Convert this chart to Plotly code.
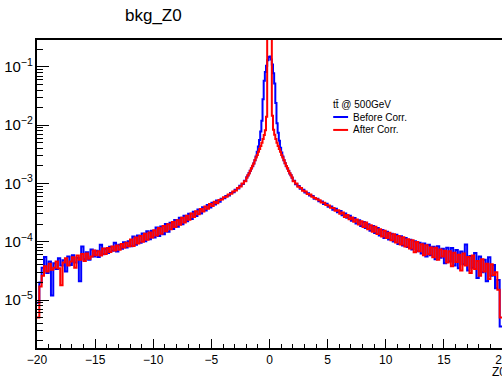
import numpy as np
import plotly.graph_objects as go

# ---------------- data ----------------
# Tails: 0.2-wide bins, values given in units of 1e-5
blue_left_tail_e5 = [0.9, 2.0, 3.6, 5.5, 2.9, 4.6, 1.2, 4.3, 3.4, 5.2,
                     3.9, 4.8, 3.1, 5.6, 4.0, 5.9, 4.4, 5.3, 2.1, 8.3,
                     5.0, 6.6, 4.9, 7.4, 5.6, 7.0, 5.5, 8.9, 6.1, 7.6,
                     6.4, 8.2, 7.0, 9.6, 6.8, 8.9, 7.6, 9.8, 8.0, 10.2,
                     8.4, 12.3, 8.9, 12.8, 9.6, 13.9, 10.2, 15.2, 11.0, 15.4,
                     11.9, 17.6, 12.6, 18.3, 13.5, 20.2, 14.8, 21.2, 16.6, 23.6,
                     18.2, 25.9, 20.0, 28.0, 22.6, 30.2, 24.6, 32.8, 27.6, 35.8,
                     30.6, 39.0, 34.4, 42.8, 38.6, 46.9, 43.5, 51.0, 48.6, 55.0,
                     55.6, 61.2, 62.5, 68.6, 71.0, 78.2, 82.0, 91.5, 98.0, 111.0]
red_left_tail_e5 = [0.5, 1.7, 2.6, 3.8, 3.1, 4.2, 3.3, 3.6, 4.6, 3.5,
                    1.8, 4.4, 5.2, 3.9, 4.6, 5.4, 3.6, 5.8, 4.9, 6.2,
                    4.7, 6.3, 5.1, 5.6, 7.1, 5.9, 6.9, 5.8, 7.7, 6.2,
                    7.8, 6.7, 8.3, 7.1, 8.6, 7.3, 9.2, 8.0, 9.6, 8.4,
                    10.9, 8.5, 11.8, 9.3, 12.6, 10.0, 13.8, 10.8, 14.5, 11.8,
                    15.8, 12.8, 17.2, 13.8, 18.6, 15.1, 19.9, 16.4, 21.8, 17.9,
                    23.5, 19.6, 25.8, 21.4, 28.0, 23.8, 30.6, 26.6, 33.4, 29.8,
                    36.6, 33.0, 40.4, 36.9, 44.4, 41.0, 48.8, 46.0, 52.2, 53.0,
                    58.0, 59.2, 64.6, 66.8, 73.0, 76.2, 84.0, 89.0, 100.0, 109.0]
blue_right_tail_e5 = [112, 97, 91, 81, 78, 70, 68, 62, 61, 55,
                      54.5, 49.8, 49.0, 44.3, 44.8, 40.1, 40.5, 35.6, 36.9, 32.0,
                      33.6, 28.4, 30.5, 25.8, 27.9, 23.0, 25.6, 20.6, 23.3, 18.6,
                      21.9, 17.2, 20.0, 15.4, 18.6, 14.1, 17.2, 12.8, 15.9, 11.6,
                      14.8, 10.9, 13.8, 10.1, 13.2, 9.2, 12.4, 8.6, 11.6, 8.1,
                      10.8, 7.4, 10.2, 6.9, 9.6, 6.3, 9.3, 5.6, 8.9, 5.9,
                      8.2, 5.0, 8.4, 5.3, 7.6, 4.3, 7.9, 4.6, 7.8, 3.9,
                      7.2, 3.5, 6.8, 4.1, 9.0, 3.2, 5.7, 3.6, 6.4, 2.4,
                      5.6, 3.0, 4.9, 2.1, 5.4, 2.6, 4.0, 1.6, 2.2, 0.35]
red_right_tail_e5 = [109, 100, 88, 84, 75, 73, 66, 64.5, 59.5, 56.5,
                     53.5, 51.8, 47.0, 46.8, 42.6, 42.0, 38.3, 38.0, 34.2, 34.9,
                     30.4, 31.8, 26.7, 28.9, 24.3, 26.0, 22.0, 24.1, 19.8, 22.6,
                     18.0, 21.4, 16.4, 19.2, 14.9, 18.1, 13.6, 16.4, 12.3, 15.5,
                     11.6, 14.3, 10.6, 13.4, 9.7, 12.6, 9.0, 12.0, 8.3, 11.0,
                     7.7, 10.6, 6.6, 9.9, 6.9, 9.1, 5.9, 8.7, 6.1, 8.0,
                     5.4, 7.9, 4.9, 7.4, 5.6, 7.0, 4.4, 6.9, 3.8, 6.5,
                     4.5, 6.0, 3.2, 6.3, 3.9, 5.5, 2.9, 5.8, 3.4, 4.7,
                     2.6, 5.0, 3.1, 4.2, 2.3, 4.1, 2.7, 3.0, 1.5, 0.5]
# Core: 0.1-wide bins from -2 to 2, absolute values
blue_core = [0.00128, 0.00137, 0.00151, 0.00166, 0.00181, 0.00198, 0.0022, 0.0025, 0.0029, 0.0035,
             0.0043, 0.0056, 0.0078, 0.012, 0.028, 0.058, 0.082, 0.105, 0.13, 0.148,
             0.152, 0.135, 0.11, 0.078, 0.052, 0.024, 0.0108, 0.0074, 0.0054, 0.0041,
             0.0034, 0.0029, 0.0025, 0.00222, 0.00198, 0.00181, 0.00165, 0.00149, 0.00138, 0.00126]
red_core = [0.00126, 0.00139, 0.00149, 0.00165, 0.00182, 0.00201, 0.0022, 0.0025, 0.0028, 0.0031,
            0.0035, 0.0039, 0.0044, 0.0050, 0.0058, 0.0068, 0.0082, 0.014, 0.38, 0.42,
            0.41, 0.37, 0.0145, 0.0084, 0.0069, 0.0058, 0.0050, 0.0044, 0.0039, 0.0035,
            0.0031, 0.0028, 0.0025, 0.00223, 0.00199, 0.00183, 0.00164, 0.0015, 0.00138, 0.00127]

title_text = "bkg_Z0"
x_title = "Z0"
legend_header = "tt\u0304 @ 500GeV"
series_names = ["Before Corr.", "After Corr."]
series_colors = ["#0000ff", "#ff0000"]
x_tick_vals = [-20, -15, -10, -5, 0, 5, 10, 15, 20]
x_tick_text = ["\u221220", "\u221215", "\u221210", "\u22125", "0", "5", "10", "15", "20"]

# ---------------- binning ----------------
edges = np.concatenate([np.linspace(-20, -2, 91)[:-1],
                        np.linspace(-2, 2, 41)[:-1],
                        np.linspace(2, 20, 91)])
SCALE = 1e-5
blue = np.concatenate([np.array(blue_left_tail_e5) * SCALE, blue_core,
                       np.array(blue_right_tail_e5) * SCALE])
red = np.concatenate([np.array(red_left_tail_e5) * SCALE, red_core,
                      np.array(red_right_tail_e5) * SCALE])

FONT = "Liberation Sans"
fig = go.Figure()
for vals, name, col in zip([blue, red], series_names, series_colors):
    fig.add_trace(go.Scatter(
        x=edges, y=np.append(vals, vals[-1]), mode="lines",
        line=dict(color=col, width=2, shape="hv"), name=name,
        showlegend=False))

fig.update_layout(
    width=502, height=378,
    margin=dict(l=37, r=0, t=40, b=30, autoexpand=False),
    paper_bgcolor="white", plot_bgcolor="white",
    font=dict(family=FONT, size=12, color="black"),
    showlegend=False,
)
fig.update_xaxes(
    range=[-20, 20], showgrid=False, zeroline=False, automargin=False,
    showline=True, linecolor="black", linewidth=1.5, mirror=True,
    ticks="inside", ticklen=9, tickwidth=1.2, tickcolor="black",
    tickvals=x_tick_vals, ticktext=x_tick_text, ticklabeloverflow="allow",
    minor=dict(ticks="inside", ticklen=4.5, dtick=1, tick0=0, tickcolor="black", tickwidth=1.2),
    tickfont=dict(size=12),
)
fig.update_yaxes(
    type="log", range=[-5.823, -0.537], showgrid=False, zeroline=False, automargin=False,
    showline=True, linecolor="black", linewidth=1.5, mirror=False,
    ticks="inside", ticklen=12, tickwidth=1.2, tickcolor="black",
    dtick=1, exponentformat="power",
    minor=dict(ticks="inside", ticklen=6, dtick="D1", tickcolor="black", tickwidth=1.2),
    tickfont=dict(size=12),
)

# title and axis title
fig.add_annotation(text=title_text, xref="paper", yref="paper", x=0.2495, y=1.081,
                   xanchor="center", yanchor="middle", showarrow=False,
                   font=dict(size=17, family=FONT, color="black"))
fig.add_annotation(text=x_title, xref="paper", yref="paper", x=0.974, y=-0.078,
                   xanchor="left", yanchor="middle", showarrow=False,
                   font=dict(size=12, family=FONT, color="black"))

# legend (ROOT TLegend style)
fig.add_annotation(text=legend_header, xref="paper", yref="paper", x=0.632, y=0.792,
                   xanchor="left", yanchor="middle", showarrow=False,
                   font=dict(size=10, family=FONT, color="black"))
for i, (name, col) in enumerate(zip(series_names, series_colors)):
    yy = 0.750 - i * 0.042
    fig.add_shape(type="line", xref="paper", yref="paper", x0=0.637, x1=0.669,
                  y0=yy, y1=yy, line=dict(color=col, width=2))
    fig.add_annotation(text=name, xref="paper", yref="paper", x=0.676, y=yy,
                       xanchor="left", yanchor="middle", showarrow=False,
                       font=dict(size=10, family=FONT, color="black"))

fig.write_html("out.html")
